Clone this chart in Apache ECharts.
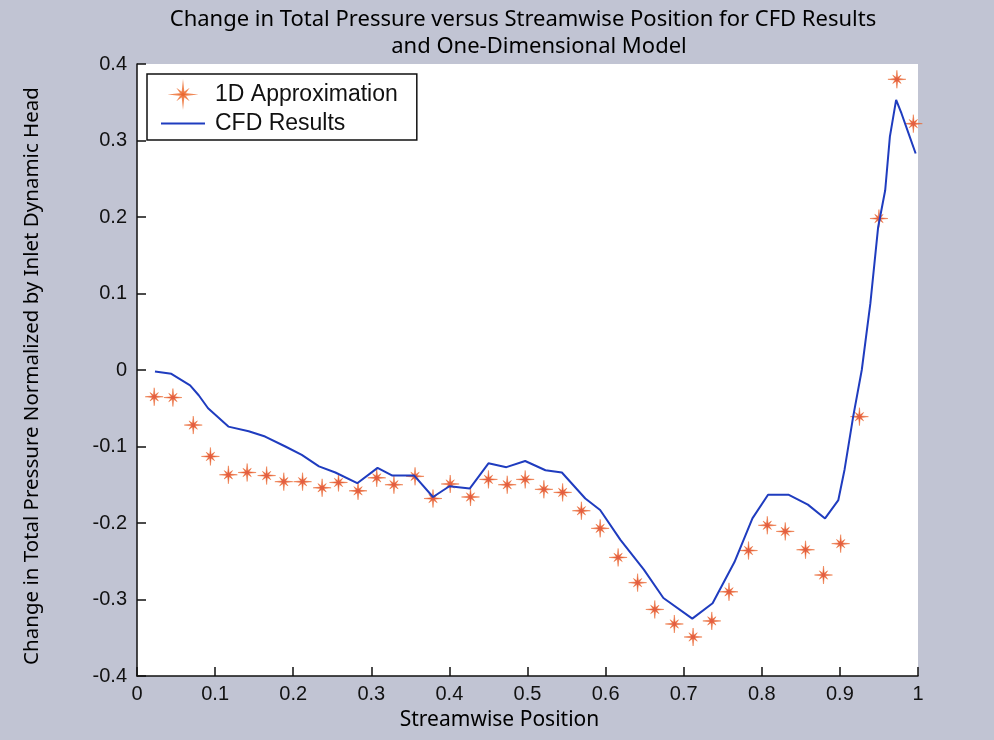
<!DOCTYPE html>
<html>
<head>
<meta charset="utf-8">
<script src="https://cdn.jsdelivr.net/npm/echarts@6/dist/echarts.min.js"></script>
<style>
  html, body { margin: 0; padding: 0; background: #c1c4d3; }
  #main { width: 994px; height: 740px; }
</style>
</head>
<body>
<div id="main"></div>
<script>
// 1D approximation (stars)
var approxX = [0.022, 0.046, 0.072, 0.094, 0.117, 0.141, 0.166, 0.188, 0.212, 0.237, 0.258, 0.283, 0.307, 0.329,
  0.356, 0.379, 0.401, 0.427, 0.450, 0.474, 0.497, 0.521, 0.545, 0.569, 0.593, 0.616, 0.641, 0.663,
  0.688, 0.712, 0.736, 0.758, 0.783, 0.807, 0.830, 0.856, 0.879, 0.901, 0.925, 0.950, 0.973, 0.994];
var approxY = [-0.035, -0.036, -0.072, -0.113, -0.137, -0.134, -0.138, -0.146, -0.146, -0.154, -0.147, -0.158, -0.141, -0.150,
  -0.139, -0.168, -0.149, -0.166, -0.143, -0.150, -0.143, -0.156, -0.160, -0.184, -0.207, -0.245, -0.278, -0.313,
  -0.332, -0.349, -0.328, -0.290, -0.236, -0.203, -0.211, -0.235, -0.268, -0.227, -0.061, 0.198, 0.380, 0.322];

// CFD results (line)
var cfdX = [0.023, 0.044, 0.068, 0.079, 0.091, 0.117, 0.143, 0.164, 0.190, 0.211, 0.233, 0.254, 0.282, 0.308,
  0.327, 0.355, 0.379, 0.400, 0.426, 0.450, 0.473, 0.497, 0.523, 0.544, 0.574, 0.593, 0.619, 0.649,
  0.674, 0.711, 0.737, 0.765, 0.788, 0.808, 0.834, 0.859, 0.881, 0.898, 0.906, 0.917, 0.928, 0.939,
  0.949, 0.958, 0.964, 0.972, 0.979, 0.988, 0.997];
var cfdY = [-0.002, -0.005, -0.020, -0.033, -0.050, -0.074, -0.080, -0.087, -0.100, -0.111, -0.126, -0.134, -0.148, -0.128,
  -0.138, -0.138, -0.166, -0.152, -0.155, -0.122, -0.127, -0.119, -0.131, -0.134, -0.168, -0.183, -0.222, -0.261,
  -0.298, -0.325, -0.305, -0.251, -0.194, -0.163, -0.163, -0.176, -0.194, -0.170, -0.130, -0.061, 0.000, 0.087,
  0.187, 0.235, 0.305, 0.353, 0.335, 0.309, 0.283];

function pairs(xs, ys) {
  var out = [];
  for (var i = 0; i < xs.length; i++) out.push([xs[i], ys[i]]);
  return out;
}

// asterisk marker like matlab '*'
function starPath() {
  var pts = [];
  for (var k = 0; k < 16; k++) {
    var a = k * Math.PI / 8 - Math.PI / 2;
    var r;
    if (k % 2 === 1) r = 0.22;
    else if (k % 4 === 0) r = 1;
    else r = 0.66;
    pts.push((50 + 50 * r * Math.cos(a)).toFixed(2) + ',' + (50 + 50 * r * Math.sin(a)).toFixed(2));
  }
  return 'path://M' + pts.join('L') + 'Z';
}
var STAR = starPath();

var titleFont = { fontFamily: 'Noto Sans', fontWeight: 'normal', fontSize: 22, color: '#000' };

var chartDom = document.getElementById('main');
var myChart = echarts.init(chartDom);
var option;

option = {
  backgroundColor: '#c1c4d3',
  animation: false,
  title: [
    {
      text: 'Change in Total Pressure versus Streamwise Position for CFD Results',
      left: 518,
      textAlign: 'center',
      top: 4,
      textStyle: titleFont
    },
    {
      text: 'and One-Dimensional Model',
      left: 534,
      textAlign: 'center',
      top: 31,
      textStyle: titleFont
    }
  ],
  legend: {
    orient: 'vertical',
    left: 147,
    top: 74,
    backgroundColor: '#fff',
    borderColor: '#111',
    borderWidth: 1.5,
    borderRadius: 0,
    padding: [9, 19, 5, 13],
    itemGap: 6,
    itemWidth: 44,
    itemHeight: 12,
    textStyle: { fontFamily: 'Liberation Sans', fontSize: 23, color: '#111', padding: [0, 0, 0, 5] },
    data: [
      { name: '1D Approximation', icon: STAR },
      { name: 'CFD Results', itemStyle: { opacity: 0 } }
    ]
  },
  grid: {
    left: 137,
    right: 76,
    top: 64,
    bottom: 64,
    show: true,
    backgroundColor: '#fff',
    borderWidth: 0
  },
  xAxis: {
    type: 'value',
    min: 0,
    max: 1,
    interval: 0.1,
    name: 'Streamwise Position',
    nameLocation: 'middle',
    nameGap: 34,
    nameTextStyle: { fontFamily: 'Noto Sans', fontSize: 21, color: '#000', padding: [0, 56, 0, 0] },
    axisLine: { onZero: false, lineStyle: { color: '#111', width: 1.5 } },
    axisTick: { inside: true, length: 9, lineStyle: { color: '#111', width: 1.5 } },
    axisLabel: { margin: 8, fontFamily: 'Liberation Sans', fontSize: 20, color: '#111' },
    splitLine: { show: false }
  },
  yAxis: {
    type: 'value',
    min: -0.4,
    max: 0.4,
    interval: 0.1,
    name: 'Change in Total Pressure Normalized by Inlet Dynamic Head',
    nameLocation: 'middle',
    nameGap: 94,
    nameTextStyle: { fontFamily: 'Noto Sans', fontSize: 20.5, color: '#000', padding: [0, 12, 0, 0] },
    axisLine: { onZero: false, lineStyle: { color: '#111', width: 1.5 } },
    axisTick: { inside: true, length: 9, lineStyle: { color: '#111', width: 1.5 } },
    axisLabel: { margin: 10, fontFamily: 'Liberation Sans', fontSize: 20, color: '#111' },
    splitLine: { show: false }
  },
  series: [
    {
      name: '1D Approximation',
      type: 'scatter',
      symbol: STAR,
      symbolSize: 18,
      itemStyle: { color: '#dc3614', borderColor: '#ec6a2c', borderWidth: 0.6 },
      data: pairs(approxX, approxY)
    },
    {
      name: 'CFD Results',
      type: 'line',
      showSymbol: false,
      symbol: 'none',
      lineStyle: { color: '#1f3cbf', width: 2 },
      itemStyle: { color: '#1f3cbf' },
      data: pairs(cfdX, cfdY)
    }
  ]
};

option && myChart.setOption(option);
</script>
</body>
</html>
